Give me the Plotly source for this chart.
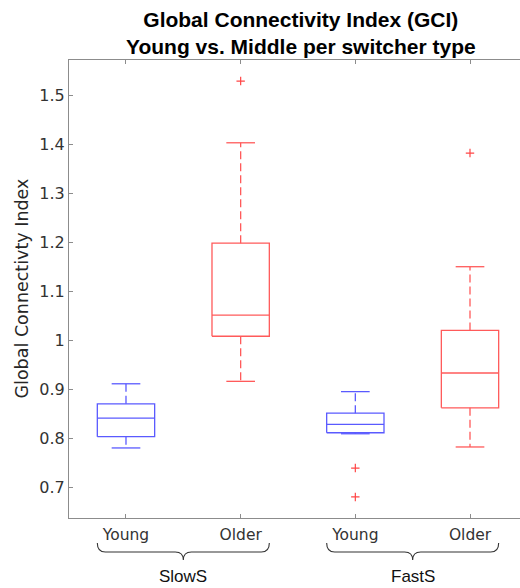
import plotly.graph_objects as go

# ---- data ----
positions = [1, 2, 3, 4]
tick_labels = ["Young", "Older", "Young", "Older"]
groups = ["SlowS", "FastS"]
group_members = [[1, 2], [3, 4]]
box_colors = ["rgb(90,90,255)", "rgb(255,90,90)", "rgb(90,90,255)", "rgb(255,90,90)"]

q1 = [0.803, 1.008, 0.811, 0.862]
median = [0.841, 1.051, 0.828, 0.933]
q3 = [0.870, 1.198, 0.851, 1.020]
lower_whisker = [0.780, 0.916, 0.809, 0.782]
upper_whisker = [0.911, 1.403, 0.895, 1.150]
outliers = [[], [1.529], [0.739, 0.680], [1.382]]

y_ticks = [0.7, 0.8, 0.9, 1.0, 1.1, 1.2, 1.3, 1.4, 1.5]
y_tick_text = ["0.7", "0.8", "0.9", "1", "1.1", "1.2", "1.3", "1.4", "1.5"]

# ---- styling ----
BOX_HALF = 0.25
CAP_HALF = 0.125
AXIS_FONT = "DejaVu Sans"
LINE_W = 1.3

fig = go.Figure()

for i, p in enumerate(positions):
    c = box_colors[i]
    fig.add_trace(go.Scatter(
        x=[p - BOX_HALF, p + BOX_HALF, p + BOX_HALF, p - BOX_HALF, p - BOX_HALF],
        y=[q1[i], q1[i], q3[i], q3[i], q1[i]],
        mode="lines", line=dict(color=c, width=LINE_W), hoverinfo="skip"))
    fig.add_trace(go.Scatter(
        x=[p - BOX_HALF, p + BOX_HALF], y=[median[i], median[i]],
        mode="lines", line=dict(color=c, width=LINE_W), hoverinfo="skip"))
    fig.add_trace(go.Scatter(
        x=[p, p, None, p, p],
        y=[q3[i], upper_whisker[i], None, q1[i], lower_whisker[i]],
        mode="lines", line=dict(color=c, width=LINE_W, dash="8px,4px"), hoverinfo="skip"))
    fig.add_trace(go.Scatter(
        x=[p - CAP_HALF, p + CAP_HALF, None, p - CAP_HALF, p + CAP_HALF],
        y=[upper_whisker[i], upper_whisker[i], None, lower_whisker[i], lower_whisker[i]],
        mode="lines", line=dict(color=c, width=LINE_W), hoverinfo="skip"))
    if outliers[i]:
        fig.add_trace(go.Scatter(
            x=[p] * len(outliers[i]), y=outliers[i], mode="markers",
            marker=dict(symbol="cross-thin", size=6,
                        line=dict(color="rgb(255,70,70)", width=1.2)),
            hoverinfo="skip"))

# braces + group labels
ytop, ymid, ybot = -0.0546, -0.0742, -0.0917
r = 0.07
shapes = []
annotations = []
for g, members in zip(groups, group_members):
    xc = sum(members) / len(members)
    x0 = min(members) - 0.25
    x1 = max(members) + 0.25
    path = (f"M {x0},{ytop} Q {x0},{ymid} {x0 + r},{ymid} L {xc - r},{ymid} "
            f"Q {xc},{ymid} {xc},{ybot} Q {xc},{ymid} {xc + r},{ymid} "
            f"L {x1 - r},{ymid} Q {x1},{ymid} {x1},{ytop}")
    shapes.append(dict(type="path", path=path, xref="x", yref="paper",
                       line=dict(color="#333333", width=1.1)))
    annotations.append(dict(text=g, x=xc, y=-0.128, xref="x", yref="paper",
                            xanchor="center", yanchor="middle", showarrow=False,
                            font=dict(family="Liberation Sans", size=17, color="#111111")))

annotations.append(dict(text="Global Connectivty Index", textangle=-90,
                        x=-0.1053, y=0.5, xref="paper", yref="paper",
                        xanchor="center", yanchor="middle", showarrow=False,
                        font=dict(family=AXIS_FONT, size=17.5, color="#262626")))

fig.update_layout(
    width=520, height=588,
    margin=dict(l=69, r=0, t=60, b=70),
    paper_bgcolor="white", plot_bgcolor="white",
    showlegend=False,
    title=dict(text="<b>Global Connectivity Index (GCI)<br>Young vs. Middle per switcher type</b>",
               x=0.514, xref="paper", xanchor="center",
               y=1 - 27 / 588, yref="container", yanchor="middle",
               font=dict(family="Liberation Sans", size=21, color="black")),
    shapes=shapes,
    annotations=annotations,
)

fig.update_xaxes(
    range=[0.503, 4.436], tickvals=positions, ticktext=tick_labels,
    showgrid=False, zeroline=False, showline=True, linecolor="#8c8c8c", linewidth=1,
    mirror="ticks", ticks="inside", ticklen=4, tickcolor="#8c8c8c",
    tickfont=dict(family=AXIS_FONT, size=15.5, color="#333333"),
    ticklabelstandoff=2)

fig.update_yaxes(
    range=[0.637, 1.572], tickvals=y_ticks, ticktext=y_tick_text,
    showgrid=False, zeroline=False, showline=True, linecolor="#8c8c8c", linewidth=1,
    ticks="inside", ticklen=4, tickcolor="#8c8c8c",
    tickfont=dict(family=AXIS_FONT, size=16, color="#333333"))

fig.write_html("out.html")
